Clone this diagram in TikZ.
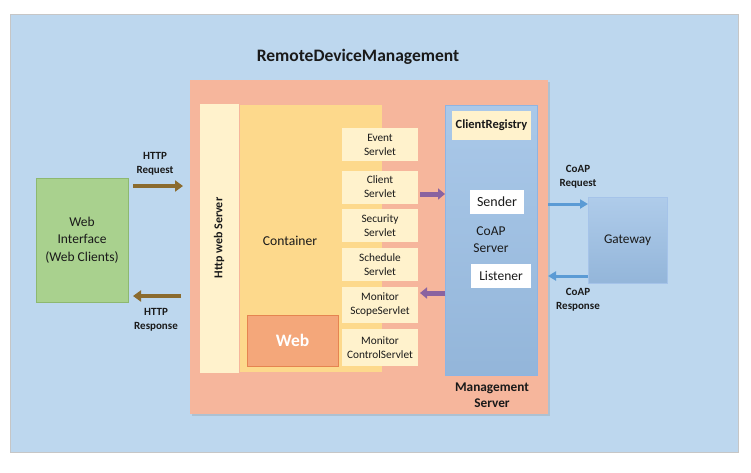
\documentclass[tikz,border=0pt]{standalone}
\usepackage{fontspec}
\setmainfont{Carlito}
\usetikzlibrary{arrows.meta,shadows}
\definecolor{bgblue}{HTML}{BDD7EE}
\definecolor{mgmt}{HTML}{F6B69C}
\definecolor{cream}{HTML}{FFF2CC}
\definecolor{contc}{HTML}{FDD98C}
\definecolor{webc}{HTML}{F4A77A}
\definecolor{webb}{HTML}{E58450}
\definecolor{coapc}{HTML}{9BBFE5}
\definecolor{coapb}{HTML}{8EB4E3}
\definecolor{greenc}{HTML}{A9D18E}
\definecolor{greenb}{HTML}{8DB870}
\definecolor{brownc}{HTML}{8B6B2E}
\definecolor{purplec}{HTML}{8A63A0}
\definecolor{bluearr}{HTML}{5B9BD5}
\definecolor{txt}{HTML}{1A1A1A}
\tikzset{
  box/.style={rectangle, inner sep=0pt, outer sep=0pt, align=center, text=txt},
  servlet/.style={box, fill=cream, minimum width=76pt, minimum height=33pt, font=\fontsize{11.3}{14}\selectfont},
  lbl/.style={align=center, text=txt, font=\bfseries\fontsize{11}{14}\selectfont, inner sep=0pt},
  brownarrow/.style={draw=brownc, line width=4pt, -{Triangle[length=8pt,width=11pt]}},
  purplearrow/.style={draw=purplec, line width=5pt, -{Triangle[length=7pt,width=11pt]}},
  bluearrow/.style={draw=bluearr, line width=3pt, -{Triangle[length=8pt,width=9pt]}},
}
\begin{document}
\begin{tikzpicture}[x=1pt,y=-1pt]
\useasboundingbox (0,0) rectangle (751,472);
\fill[white] (0,0) rectangle (751,472);
% background panel
\node[box, fill=bgblue, draw=gray!45, line width=1pt, minimum width=728pt, minimum height=438pt] (bg) at (374,233) {};
\node[font=\bfseries\fontsize{17.5}{20}\selectfont, text=txt] (title) at (358,57) {RemoteDeviceManagement};
% management server
\node[box, fill=mgmt, minimum width=358pt, minimum height=334pt, drop shadow={opacity=0.25, shadow xshift=2pt, shadow yshift=-2pt}] (mgmt) at (369,247) {};
\node[lbl, font=\bfseries\fontsize{13.3}{16}\selectfont] (mglbl) at (492,395) {Management\\Server};
% http web server strip
\node[box, fill=cream, minimum width=39pt, minimum height=269pt] (http) at (219.5,238) {};
\node[rotate=90, font=\bfseries\fontsize{12}{14}\selectfont, text=txt] (httplbl) at (219,238) {Http web Server};
% container
\node[box, fill=contc, minimum width=142pt, minimum height=267pt] (cont) at (311,238.5) {};
\node[text=txt, font=\fontsize{13.6}{16}\selectfont] (contlbl) at (290,241) {Container};
% web
\node[box, fill=webc, draw=webb, line width=0.8pt, minimum width=91pt, minimum height=51pt, text=white, font=\bfseries\fontsize{17.5}{20}\selectfont] (web) at (292.5,340.5) {Web};
% servlets
\node[servlet] (event) at (380,144.5) {Event\\Servlet};
\node[servlet] (client) at (380,187) {Client\\Servlet};
\node[servlet] (security) at (380,225.5) {Security\\Servlet};
\node[servlet] (schedule) at (380,264.5) {Schedule\\Servlet};
\node[servlet, minimum height=36pt] (mscope) at (380,305) {Monitor\\ScopeServlet};
\node[servlet, minimum height=37pt] (mcontrol) at (380,347.5) {Monitor\\ControlServlet};
% coap server
\node[box, top color=coapc!85!white, bottom color=coapc!95!black, draw=coapb, line width=0.8pt, minimum width=92pt, minimum height=270pt] (coap) at (491,240) {};
\node[box, fill=cream, minimum width=79pt, minimum height=29pt, font=\bfseries\fontsize{12.5}{14}\selectfont] (reg) at (491.5,125.5) {ClientRegistry};
\node[box, fill=white, minimum width=54pt, minimum height=24pt, font=\fontsize{14}{16}\selectfont] (sender) at (497,202) {Sender};
\node[text=txt, align=center, font=\fontsize{13.5}{17}\selectfont, inner sep=0pt] (coaplbl) at (491,240) {CoAP\\Server};
\node[box, fill=white, minimum width=60pt, minimum height=24pt, font=\fontsize{13.5}{16}\selectfont] (listener) at (501,276) {Listener};
% gateway
\node[box, top color=coapc!80!white, bottom color=coapc!95!black, draw=coapb!80!white, line width=0.8pt, minimum width=79pt, minimum height=86pt, font=\fontsize{13.3}{16}\selectfont] (gw) at (627.5,240) {Gateway};
% web interface
\node[box, fill=greenc, draw=greenb, line width=0.8pt, minimum width=92pt, minimum height=124pt, font=\fontsize{13.5}{17.5}\selectfont] (wi) at (82,240) {Web\\Interface\\(Web Clients)};
% coordinates for arrows
\coordinate (hreqS) at (wi.east |- 0,186);
\coordinate (hreqE) at (mgmt.west |- 0,186);
\coordinate (hresS) at (mgmt.west |- 0,296);
\coordinate (hresE) at (wi.east |- 0,296);
\draw[brownarrow] ([xshift=5pt]hreqS) -- ([xshift=-7pt]hreqE);
\draw[brownarrow] ([xshift=-9pt]hresS) -- ([xshift=5pt]hresE);
\node[lbl] (hreqlbl) at (155,164) {HTTP\\Request};
\node[lbl] (hreslbl) at (156,320) {HTTP\\Response};
% purple arrows
\coordinate (pa1) at (client.east |- 0,194);
\coordinate (pa2) at (coap.west |- 0,194);
\coordinate (pb1) at (coap.west |- 0,293);
\coordinate (pb2) at (mscope.east |- 0,293);
\draw[purplearrow] ([xshift=2pt]pa1) -- (pa2);
\draw[purplearrow] (pb1) -- ([xshift=2pt]pb2);
% coap arrows
\coordinate (ca1) at (mgmt.east |- 0,204);
\coordinate (ca2) at (gw.west |- 0,204);
\coordinate (cb1) at (gw.west |- 0,276);
\coordinate (cb2) at (mgmt.east |- 0,276);
\draw[bluearrow] (ca1) -- (ca2);
\draw[bluearrow] (cb1) -- (cb2);
\node[lbl] (creqlbl) at (578,177) {CoAP\\Request};
\node[lbl] (creslbl) at (578,300) {CoAP\\Response};
\end{tikzpicture}
\end{document}
